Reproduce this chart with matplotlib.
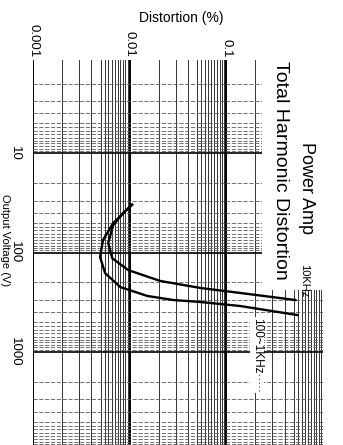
import numpy as np
import matplotlib.pyplot as plt
from matplotlib.ticker import LogLocator, NullFormatter
from matplotlib.patches import Rectangle

plt.rcParams['font.family'] = ['Liberation Sans', 'DejaVu Sans']

# THD curves: distortion (%) vs output voltage (V)
thd_10k = [0.0106, 0.00857, 0.00675, 0.0060, 0.00659, 0.00966, 0.0207, 0.0539, 0.140, 0.519]
volt_10k = [33, 40, 53, 80, 114, 150, 193, 227, 255, 300]

thd_1k = [0.0106, 0.00675, 0.0053, 0.00494, 0.00557, 0.00798, 0.0152, 0.0283, 0.0539, 0.140, 0.545]
volt_1k = [33, 50.6, 74.9, 111, 161, 222, 273, 300, 314, 345, 425]

dist_ticks = [0.001, 0.01, 0.1]
dist_labels = ['0.001', '0.01', '0.1']
volt_ticks = [10, 100, 1000]
volt_labels = ['10', '100', '1000']

W, H = 343, 445
fig = plt.figure(figsize=(W / 100, H / 100), dpi=100)
fig.patch.set_facecolor('white')

# axes placed in pixels: x 33..323, y 60..445
ax = fig.add_axes([33 / W, 0, 290 / W, 385 / H])
ax.set_xscale('log')
ax.set_yscale('log')
ax.set_xlim(0.001, 1.0)
ax.set_ylim(8600, 1.16)  # voltage grows downwards (chart is printed rotated)

for s in ax.spines.values():
    s.set_visible(False)

fine = [2, 3, 4, 5, 5.5, 6, 6.5, 7, 7.5, 8, 8.5, 9, 9.5]
ax.xaxis.set_minor_locator(LogLocator(base=10, subs=fine, numticks=20))
ax.yaxis.set_minor_locator(LogLocator(base=10, subs=fine, numticks=20))
ax.xaxis.set_minor_formatter(NullFormatter())
ax.yaxis.set_minor_formatter(NullFormatter())

ax.xaxis.grid(True, which='major', color='black', lw=1.4, zorder=1)
ax.xaxis.grid(True, which='minor', color='0.2', lw=0.7, zorder=1)
ax.yaxis.grid(True, which='major', color='black', lw=1.2, zorder=1)
ax.yaxis.grid(True, which='minor', color='0.35', lw=0.6, ls=(0, (5, 2)), zorder=1)
ax.set_axisbelow(True)

ax.xaxis.tick_top()
ax.set_xticks(dist_ticks, labels=dist_labels, rotation=-90)
ax.set_yticks(volt_ticks, labels=volt_labels, rotation=-90, va='center')
ax.tick_params(axis='both', which='both', length=0, labelsize=9.5)
ax.tick_params(axis='x', pad=2)
ax.tick_params(axis='y', pad=9)

# white patch behind the title block
ax.add_patch(Rectangle((0.236, 1.16), 1.0 - 0.236, 238 - 1.16,
                       facecolor='white', edgecolor='none', zorder=2))

ax.plot(thd_10k, volt_10k, color='black', lw=1.7, zorder=3)
ax.plot(thd_1k, volt_1k, color='black', lw=1.7, zorder=3)

def ftext(x, y, s, **kw):
    fig.text(x / W, 1 - y / H, s, ha='center', va='center', **kw)

ftext(181, 18, 'Distortion (%)', fontsize=10)
ftext(5, 240, 'Output Voltage (V)', fontsize=8, rotation=-90)
ftext(306, 188, 'Power Amp', fontsize=13, rotation=-90)
ftext(280, 170, 'Total Harmonic Distortion', fontsize=14, rotation=-90)
ftext(304, 281, '10KHz', fontsize=8, rotation=-90, zorder=5)
ftext(257, 355, '100~1KHz·····', fontsize=8.5, rotation=-90, zorder=5,
      bbox=dict(facecolor='white', edgecolor='none', pad=0.5))

fig.savefig('out.png', dpi=100)
